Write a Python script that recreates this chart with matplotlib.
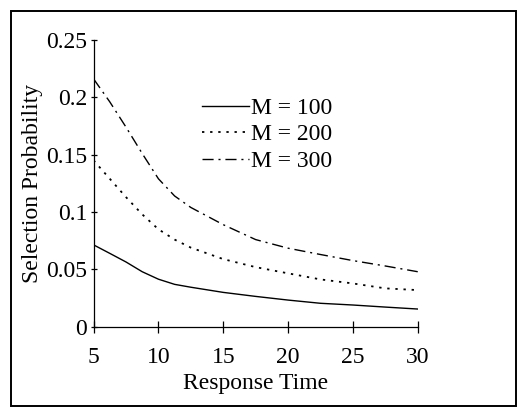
import numpy as np
import matplotlib
matplotlib.use('Agg')
import matplotlib.pyplot as plt
from matplotlib.patches import Rectangle

plt.rcParams['font.family'] = ['Liberation Serif', 'DejaVu Serif']

# response time grid and selection probabilities
resp_time = [5, 6.25, 7.5, 8.75, 10, 11.25, 12.5, 15, 17.5, 20, 22.5, 25, 27.5, 30]
p_m100 = [0.0714, 0.064, 0.0565, 0.048, 0.0415, 0.037, 0.0345, 0.030, 0.0265,
          0.0233, 0.0205, 0.019, 0.0172, 0.0155]
p_m200 = [0.145, 0.129, 0.113, 0.098, 0.085, 0.076, 0.069, 0.059, 0.052,
          0.0466, 0.0413, 0.0378, 0.0335, 0.032]
p_m300 = [0.216, 0.196, 0.174, 0.151, 0.129, 0.114, 0.104, 0.089, 0.076,
          0.0685, 0.063, 0.0577, 0.053, 0.048]
labels = ['M = 100', 'M = 200', 'M = 300']

xticks = [5, 10, 15, 20, 25, 30]
yticks = [0, 0.05, 0.1, 0.15, 0.2, 0.25]
ytick_labels = ['0', '0.05', '0.1', '0.15', '0.2', '0.25']

fig = plt.figure(figsize=(5.17, 4.07), dpi=100)
ax = fig.add_axes([0.181, 0.197, 0.627, 0.705])

ax.plot(resp_time, p_m100, color='black', lw=1.0, label=labels[0])
ax.plot(resp_time, p_m200, color='black', lw=1.3, linestyle=(0, (1.3, 3.2)), label=labels[1])
ax.plot(resp_time, p_m300, color='black', lw=1.0, linestyle=(0, (8, 3.5, 1.5, 3.5)), label=labels[2])

ax.set_xlim(5, 30)
ax.set_ylim(0, 0.25)
ax.set_xticks(xticks)
ax.set_yticks(yticks)
ax.set_yticklabels(ytick_labels)
ax.tick_params(axis='x', direction='inout', length=8.6, width=0.9, labelsize=17, pad=10)
ax.tick_params(axis='y', direction='inout', length=5, width=0.9, labelsize=17, pad=2)
for s in ['top', 'right']:
    ax.spines[s].set_visible(False)
for s in ['left', 'bottom']:
    ax.spines[s].set_linewidth(0.9)

ax.set_xlabel('Response Time', fontsize=17, labelpad=4)
ax.set_ylabel('Selection Probability', fontsize=17, labelpad=2)

ax.legend(loc='upper left', bbox_to_anchor=(0.334, 0.80), frameon=False, fontsize=17,
          handlelength=2.0, handletextpad=0.1, labelspacing=0.21, borderpad=0, borderaxespad=0)

# frame around the whole figure
fig.add_artist(Rectangle((11 / 517, 0.002), 1 - 11 / 517 - 0.001, 1 - 0.002 - 11 / 407,
                         transform=fig.transFigure, fill=False, lw=1.4, color='black'))

fig.savefig('out.png', dpi=100)
